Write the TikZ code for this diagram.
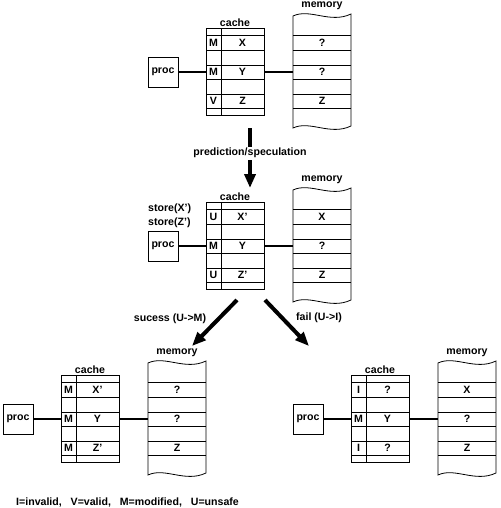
\documentclass[tikz,border=0pt]{standalone}
\usepackage{fontspec}
\setmainfont{Liberation Sans}
\usetikzlibrary{arrows.meta}

\begin{document}
\begin{tikzpicture}[x=1pt,y=1pt,yscale=-1,
  every node/.style={font=\fontsize{10.6}{12}\selectfont\bfseries, inner sep=0pt},
  procbox/.style={draw, line width=0.8pt, minimum width=30pt, minimum height=30pt, outer sep=0pt},
  cachebox/.style={draw, line width=0.8pt, minimum width=58pt, minimum height=87pt, outer sep=0pt},
  membox/.style={minimum width=58pt, minimum height=87pt, outer sep=0pt},
  rule/.style={line width=0.8pt},
  bus/.style={line width=2.6pt},
  bigarrow/.style={line width=4pt, -{Triangle[length=14pt,width=11pt]}}]
\useasboundingbox (0,0) rectangle (500,508);

%top: before the stores
\node [procbox] (procA) at (163,72) {proc};
\node [cachebox] (cacheA) at (235,72) {};
\draw [rule] (221,28.5) -- (221,115.5);
\draw [rule] (206,35) -- (264,35) (206,50) -- (264,50) (206,65) -- (264,65) (206,79) -- (264,79) (206,94) -- (264,94) (206,108) -- (264,108);
\draw [rule] (293,16) .. controls (310,8) and (330,24) .. (351,14) -- (351,126) .. controls (330,136) and (310,120) .. (293,128) -- cycle;
\draw [rule] (293,35) -- (351,35) (293,50) -- (351,50) (293,65) -- (351,65) (293,79) -- (351,79) (293,94) -- (351,94) (293,108) -- (351,108);
\node [membox] (memA) at (322,72) {};
\node at (235,23) {cache};
\node at (322,6) {memory};
\node at (213.5,42.5) {M}; \node at (242.5,42.5) {X}; \node at (322,42.5) {?};
\node at (213.5,72) {M}; \node at (242.5,72) {Y}; \node at (322,72) {?};
\node at (213.5,101) {V}; \node at (242.5,101) {Z}; \node at (322,101) {Z};
\draw [bus] (procA) -- (cacheA);
\draw [bus] (cacheA) -- (memA);

%middle: speculative stores
\begin{scope}[shift={(0,174)}]
\node [procbox] (procB) at (163,72) {proc};
\node [cachebox] (cacheB) at (235,72) {};
\draw [rule] (221,28.5) -- (221,115.5);
\draw [rule] (206,35) -- (264,35) (206,50) -- (264,50) (206,65) -- (264,65) (206,79) -- (264,79) (206,94) -- (264,94) (206,108) -- (264,108);
\draw [rule] (293,16) .. controls (310,8) and (330,24) .. (351,14) -- (351,126) .. controls (330,136) and (310,120) .. (293,128) -- cycle;
\draw [rule] (293,35) -- (351,35) (293,50) -- (351,50) (293,65) -- (351,65) (293,79) -- (351,79) (293,94) -- (351,94) (293,108) -- (351,108);
\node [membox] (memB) at (322,72) {};
\node at (235,23) {cache};
\node at (322,6) {memory};
\node [anchor=west] at (148,35) {store(X')};
\node [anchor=west] at (148,49) {store(Z')};
\node at (213.5,42.5) {U}; \node at (242.5,42.5) {X'}; \node at (322,42.5) {X};
\node at (213.5,72) {M}; \node at (242.5,72) {Y}; \node at (322,72) {?};
\node at (213.5,101) {U}; \node at (242.5,101) {Z'}; \node at (322,101) {Z};
\draw [bus] (procB) -- (cacheB);
\draw [bus] (cacheB) -- (memB);
\end{scope}

%bottom left: speculation right
\begin{scope}[shift={(-145,347)}]
\node [procbox] (procC) at (163,72) {proc};
\node [cachebox] (cacheC) at (235,72) {};
\draw [rule] (221,28.5) -- (221,115.5);
\draw [rule] (206,35) -- (264,35) (206,50) -- (264,50) (206,65) -- (264,65) (206,79) -- (264,79) (206,94) -- (264,94) (206,108) -- (264,108);
\draw [rule] (293,16) .. controls (310,8) and (330,24) .. (351,14) -- (351,126) .. controls (330,136) and (310,120) .. (293,128) -- cycle;
\draw [rule] (293,35) -- (351,35) (293,50) -- (351,50) (293,65) -- (351,65) (293,79) -- (351,79) (293,94) -- (351,94) (293,108) -- (351,108);
\node [membox] (memC) at (322,72) {};
\node at (235,23) {cache};
\node at (322,6) {memory};
\node at (213.5,42.5) {M}; \node at (242.5,42.5) {X'}; \node at (322,42.5) {?};
\node at (213.5,72) {M}; \node at (242.5,72) {Y}; \node at (322,72) {?};
\node at (213.5,101) {M}; \node at (242.5,101) {Z'}; \node at (322,101) {Z};
\draw [bus] (procC) -- (cacheC);
\draw [bus] (cacheC) -- (memC);
\end{scope}

%bottom right: speculation wrong
\begin{scope}[shift={(145,347)}]
\node [procbox] (procD) at (163,72) {proc};
\node [cachebox] (cacheD) at (235,72) {};
\draw [rule] (221,28.5) -- (221,115.5);
\draw [rule] (206,35) -- (264,35) (206,50) -- (264,50) (206,65) -- (264,65) (206,79) -- (264,79) (206,94) -- (264,94) (206,108) -- (264,108);
\draw [rule] (293,16) .. controls (310,8) and (330,24) .. (351,14) -- (351,126) .. controls (330,136) and (310,120) .. (293,128) -- cycle;
\draw [rule] (293,35) -- (351,35) (293,50) -- (351,50) (293,65) -- (351,65) (293,79) -- (351,79) (293,94) -- (351,94) (293,108) -- (351,108);
\node [membox] (memD) at (322,72) {};
\node at (235,23) {cache};
\node at (322,6) {memory};
\node at (213.5,42.5) {I}; \node at (242.5,42.5) {?}; \node at (322,42.5) {X};
\node at (213.5,72) {M}; \node at (242.5,72) {Y}; \node at (322,72) {?};
\node at (213.5,101) {I}; \node at (242.5,101) {?}; \node at (322,101) {Z};
\draw [bus] (procD) -- (cacheD);
\draw [bus] (cacheD) -- (memD);
\end{scope}

%big arrows
\coordinate (predS) at (250,128);
\coordinate (predE) at (250,188);
\coordinate (succS) at (237,300);
\coordinate (succE) at (192,346);
\coordinate (failS) at (265,300);
\coordinate (failE) at (309,346);
\draw [bigarrow] (predS) -- node [pos=0.42, fill=white, inner sep=1.5pt] {prediction/speculation} (predE);
\draw [bigarrow] (succS) -- (succE);
\draw [bigarrow] (failS) -- (failE);
\node at (170,319) {sucess (U->M)};
\node at (319,318) {fail (U->I)};

\node [anchor=west] at (16,502) {I=invalid,\ \ \ V=valid,\ \ \ M=modified,\ \ \ U=unsafe};

\end{tikzpicture}
\end{document}
